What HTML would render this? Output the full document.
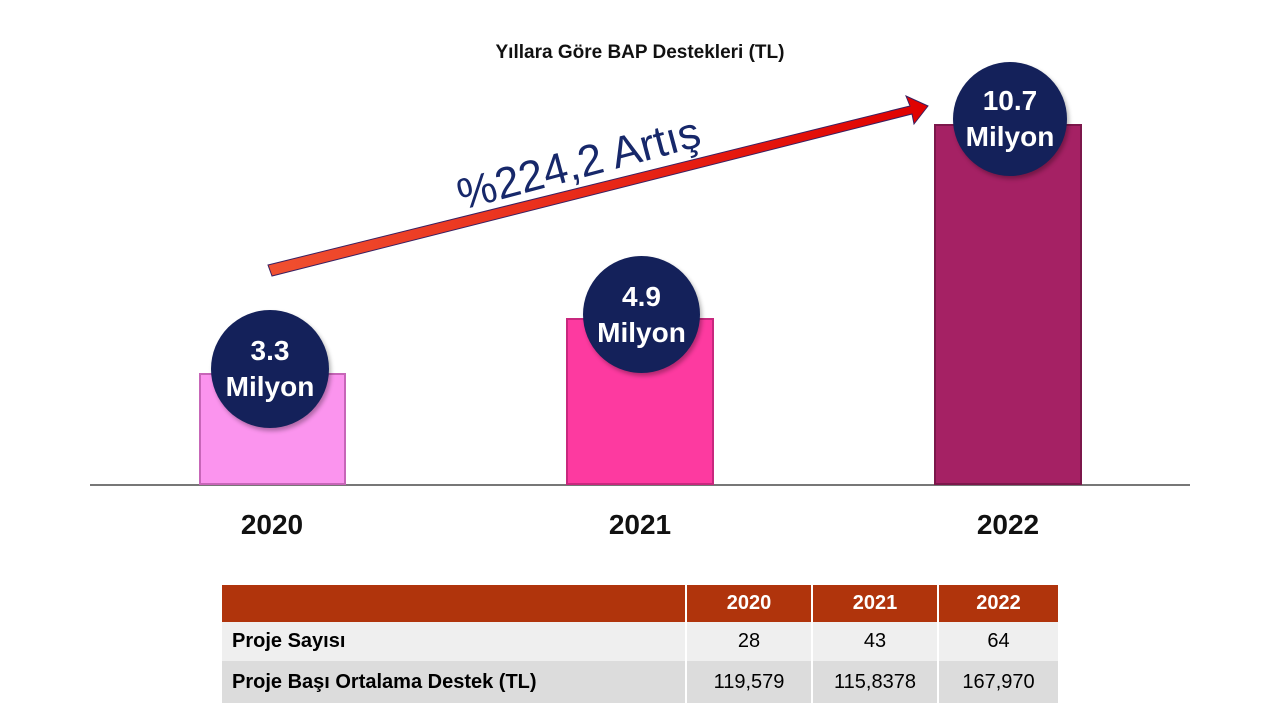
<!DOCTYPE html>
<html><head><meta charset="utf-8"><style>
body{margin:0;width:1280px;height:720px;background:#fff;position:relative;overflow:hidden;font-family:"Liberation Sans",sans-serif}
.a{position:absolute}
.bar{position:absolute;box-sizing:border-box}
.c{position:absolute;border-radius:50%;background:#14215a;color:#fff;font-weight:bold;font-size:28px;text-align:center;display:flex;align-items:center;justify-content:center;line-height:36px;box-shadow:2px 3px 4px rgba(0,0,0,.3)}
.yr{position:absolute;font-weight:bold;font-size:28px;color:#111;width:200px;text-align:center}
table{position:absolute;left:222px;top:585px;width:836px;border-collapse:collapse;font-size:20px;font-family:"Liberation Sans",sans-serif}
td{padding:0 10px;border-left:2px solid #fff}
</style></head><body>
<div class="a" style="left:0;top:42px;width:1280px;text-align:center;font-weight:bold;font-size:19px;color:#111">Yıllara Göre BAP Destekleri (TL)</div>
<div class="a" style="left:90px;top:484px;width:1100px;height:2px;background:#777"></div>
<div class="bar" style="left:199px;top:373px;width:147px;height:112px;background:#fb94ee;border:2px solid #c766b8"></div>
<div class="bar" style="left:566px;top:318px;width:148px;height:167px;background:#fd3aa0;border:2px solid #c8287e"></div>
<div class="bar" style="left:934px;top:124px;width:148px;height:361px;background:#a52164;border:2px solid #7c174b"></div>
<svg class="a" style="left:0;top:0" width="1280" height="720">
<defs><linearGradient id="g" x1="0" x2="1"><stop offset="0" stop-color="#f05030"/><stop offset="1" stop-color="#e00000"/></linearGradient></defs>
<polygon points="268,265 910,106 906,96 928,106 914,124 912,114 272,276" fill="url(#g)" stroke="#3a2060" stroke-width="1"/>
<text x="0" y="0" transform="translate(462,210) rotate(-15)" font-family="Liberation Sans" font-size="44" fill="#17286a">%224,2 Artış</text>
</svg>
<div class="c" style="left:211px;top:310px;width:118px;height:118px">3.3<br>Milyon</div>
<div class="c" style="left:583px;top:256px;width:117px;height:117px">4.9<br>Milyon</div>
<div class="c" style="left:953px;top:62px;width:114px;height:114px">10.7<br>Milyon</div>
<div class="yr" style="left:172px;top:509px">2020</div>
<div class="yr" style="left:540px;top:509px">2021</div>
<div class="yr" style="left:908px;top:509px">2022</div>
<table>
<tr style="background:#b0340c;color:#fff;font-weight:bold;height:37px"><td style="width:443px;border-left:0"></td><td style="text-align:center;width:104px">2020</td><td style="text-align:center;width:104px">2021</td><td style="text-align:center">2022</td></tr>
<tr style="background:#efefef;height:39px"><td style="font-weight:bold;border-left:0">Proje Sayısı</td><td style="text-align:center">28</td><td style="text-align:center">43</td><td style="text-align:center">64</td></tr>
<tr style="background:#dcdcdc;height:42px"><td style="font-weight:bold;border-left:0">Proje Başı Ortalama Destek (TL)</td><td style="text-align:center">119,579</td><td style="text-align:center">115,8378</td><td style="text-align:center">167,970</td></tr>
</table>
</body></html>
